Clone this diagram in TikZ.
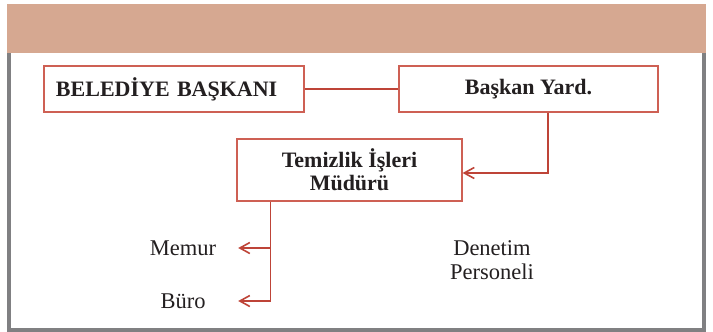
\documentclass[tikz,border=0pt]{standalone}
\usepackage{fontspec}
\setmainfont{Liberation Serif}
\usepackage{tikz}
\usetikzlibrary{arrows.meta, positioning, calc}
\definecolor{bandtan}{RGB}{214,168,145}
\definecolor{framegray}{RGB}{128,128,130}
\definecolor{boxred}{RGB}{206,96,84}
\definecolor{linered}{RGB}{190,68,56}
\definecolor{inkgray}{RGB}{35,31,32}

\begin{document}
\begin{tikzpicture}[
    x=1pt, y=-1pt,
    orgbox/.style={draw=boxred, line width=1.2pt, fill=white, inner sep=0pt, font=\fontsize{22}{23}\selectfont\bfseries, text=inkgray, align=center},
    plain/.style={inner sep=0pt, font=\fontsize{22.5}{24}\selectfont, text=inkgray, align=center},
    link/.style={linered, line width=1.7pt},
    arrow/.style={link, -{Straight Barb[length=10pt, width=11pt, line width=1.6pt]}},
  ]
  \useasboundingbox (0,0) rectangle (713,332);
  % frame and header band
  \fill[bandtan] (7,4) rectangle (706,53);
  \draw[framegray, line width=4pt] (9,53) -- (9,330) -- (704,330) -- (704,53);
  % boxes
  \node[orgbox, minimum width=260pt, minimum height=46pt, text width=236pt, align=left] (mayor) at (174,89) {BELEDİYE BAŞKANI};
  \node[orgbox, minimum width=259pt, minimum height=46pt] (deputy) at (528.5,89) {Başkan Yard.};
  \node[orgbox, minimum width=225pt, minimum height=62pt] (director) at (349.5,170) {Temizlik İşleri\\Müdürü};
  % plain labels
  \node[plain, minimum width=110pt] (clerk) at (183,248) {Memur};
  \node[plain, minimum width=110pt] (office) at (183,301) {Büro};
  \node[plain] (inspect) at (492,260) {Denetim\\Personeli};
  % connectors
  \draw[link] (mayor) -- (deputy);
  \draw[arrow] ([xshift=19.5pt]deputy.south) |- ([yshift=-3pt]director.east);
  \coordinate (split) at ([xshift=34pt]director.south west);
  \draw[arrow] (split) |- (office.east);
  \draw[arrow] (split |- clerk.east) -- (clerk.east);
\end{tikzpicture}
\end{document}
